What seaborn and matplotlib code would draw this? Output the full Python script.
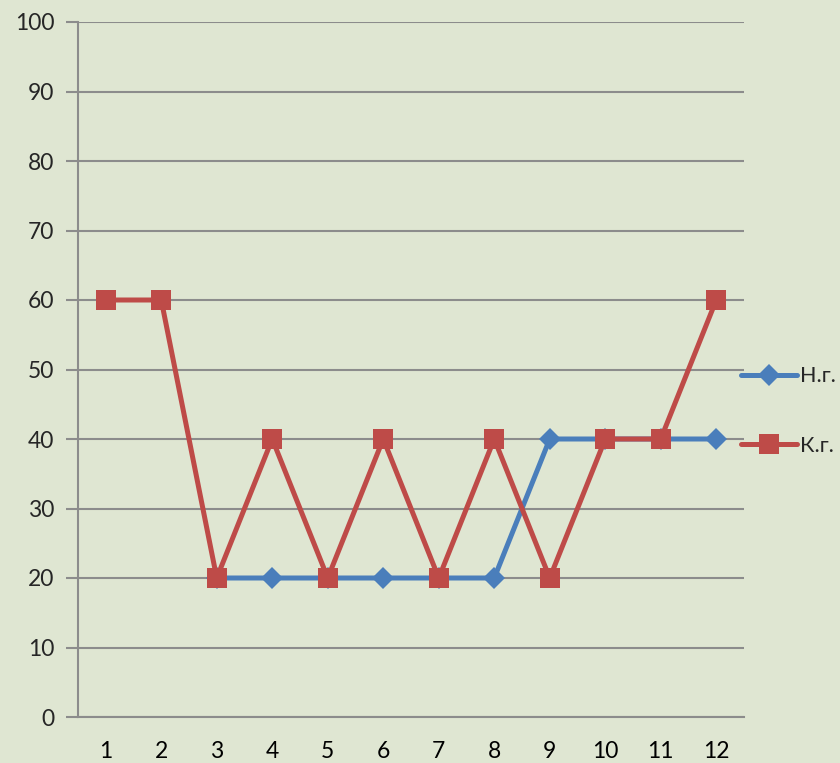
import numpy as np
import pandas as pd
import matplotlib
matplotlib.use("Agg")
import matplotlib.pyplot as plt
import seaborn as sns
from matplotlib.ticker import FixedLocator

categories = [1, 2, 3, 4, 5, 6, 7, 8, 9, 10, 11, 12]
series_ng = [np.nan, np.nan, 20, 20, 20, 20, 20, 20, 40, 40, 40, 40]
series_kg = [60, 60, 20, 40, 20, 40, 20, 40, 20, 40, 40, 60]
series_names = ["Н.г.", "К.г."]
y_ticks = [0, 10, 20, 30, 40, 50, 60, 70, 80, 90, 100]

sns.set_theme(style="white")
plt.rcParams['font.family'] = ['Lato', 'DejaVu Sans']

bg = '#dfe6d2'
fig = plt.figure(figsize=(8.4, 7.63), dpi=100, facecolor=bg)
ax = fig.add_axes([78/840, 46/763, (744-78)/840, (717-22)/763])
ax.set_facecolor(bg)

df = pd.DataFrame({"x": categories, series_names[0]: series_ng, series_names[1]: series_kg})

sns.lineplot(data=df, x="x", y=series_names[0], ax=ax, color='#4a7ebb', lw=3.6,
             marker='D', markersize=11, markeredgewidth=0, label=series_names[0])
sns.lineplot(data=df, x="x", y=series_names[1], ax=ax, color='#be4b48', lw=3.6,
             marker='s', markersize=14, markeredgewidth=0, label=series_names[1])

ax.set_xlim(0.5, 12.5)
ax.set_ylim(0, 100)
ax.set_yticks(y_ticks)
ax.yaxis.grid(True, color='#8c8c8c', lw=1.5)
ax.set_axisbelow(True)
ax.set_xticks(categories)
ax.set_xticklabels([str(c) for c in categories])
ax.xaxis.set_minor_locator(FixedLocator(np.arange(0.5, 13, 1)))
ax.tick_params(axis='x', which='major', length=0, labelsize=16.5, pad=17, colors='black')
ax.tick_params(axis='x', which='minor', length=8, width=1.5, color='#8c8c8c', direction='out')
ax.tick_params(axis='y', length=9, width=1.5, color='#8c8c8c', labelsize=16.5, pad=8, left=True)
ax.set_xlabel("")
ax.set_ylabel("")
for s in ['top', 'right']:
    ax.spines[s].set_visible(False)
for s in ['left', 'bottom']:
    ax.spines[s].set_color('#8c8c8c')
    ax.spines[s].set_linewidth(1.5)

ax.get_legend().remove()
h, l = ax.get_legend_handles_labels()
fig.legend(h, l, loc='center left', bbox_to_anchor=(741/840, 1 - 411/763), frameon=False,
           fontsize=15.5, handlelength=2.6, handletextpad=0.15, labelspacing=2.3,
           borderpad=0, borderaxespad=0)

fig.savefig("out.png", dpi=100, facecolor=bg)
